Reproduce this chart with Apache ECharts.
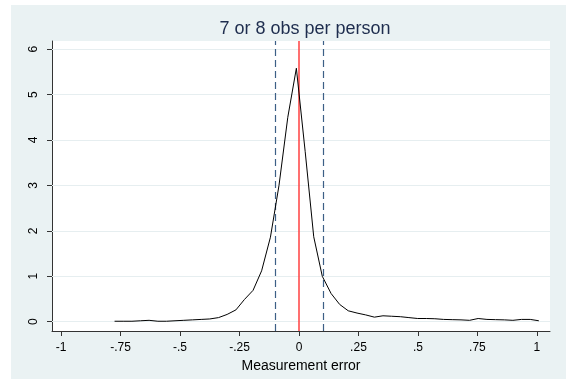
<!DOCTYPE html>
<html>
<head>
<meta charset="utf-8">
<script src="https://cdn.jsdelivr.net/npm/echarts@6/dist/echarts.min.js"></script>
<style>
  html, body { margin: 0; padding: 0; background: #ffffff; }
  #chart { width: 566px; height: 379px; }
</style>
</head>
<body>
<div id="chart"></div>
<script>
// Kernel density of measurement error, evaluated at 50 points
const errX = [
  -0.775, -0.739, -0.702, -0.666, -0.630, -0.593, -0.557, -0.521, -0.484, -0.448,
  -0.411, -0.375, -0.338, -0.302, -0.265, -0.229, -0.193, -0.157, -0.120, -0.084,
  -0.047, -0.011, 0.026, 0.062, 0.098, 0.135, 0.171, 0.207, 0.244, 0.280,
  0.317, 0.353, 0.389, 0.426, 0.462, 0.499, 0.535, 0.571, 0.608, 0.644,
  0.681, 0.717, 0.753, 0.790, 0.826, 0.863, 0.899, 0.935, 0.972, 1.008
];
const density = [
  0.01, 0.01, 0.01, 0.02, 0.03, 0.01, 0.01, 0.02, 0.03, 0.04,
  0.05, 0.06, 0.09, 0.16, 0.26, 0.49, 0.69, 1.12, 1.86, 3.00,
  4.50, 5.58, 3.75, 1.87, 1.00, 0.62, 0.38, 0.24, 0.19, 0.15,
  0.10, 0.13, 0.12, 0.11, 0.09, 0.07, 0.07, 0.065, 0.05, 0.045,
  0.04, 0.03, 0.07, 0.05, 0.045, 0.04, 0.03, 0.05, 0.05, 0.02
];
const xTicks = [-1, -0.75, -0.5, -0.25, 0, 0.25, 0.5, 0.75, 1];
const yTicks = [0, 1, 2, 3, 4, 5, 6];
const meanLine = 0;
const bandLines = [-0.1, 0.1];

const titleText = '7 or 8 obs per person';
const xTitle = 'Measurement error';

// Stata-style number formatting: drop the leading zero (".25", "-.5")
function stataNum(v) {
  let s = String(Math.round(v * 100) / 100);
  return s.replace(/^0\./, '.').replace(/^-0\./, '-.');
}

const FONT = 'Liberation Sans, Arial, sans-serif';
const chart = echarts.init(document.getElementById('chart'));

chart.setOption({
  backgroundColor: '#ffffff',
  animation: false,
  graphic: [{
    type: 'rect',
    shape: { x: 11, y: 5, width: 555, height: 374 },
    style: { fill: '#eaf2f3' },
    z: -10
  }],
  title: {
    text: titleText,
    left: 300,
    textAlign: 'center',
    top: 15,
    textStyle: { fontFamily: FONT, fontSize: 18, fontWeight: 'normal', color: '#1e2d4e' }
  },
  grid: {
    left: 52, right: 16, top: 41, bottom: 48,
    show: true, backgroundColor: '#ffffff', borderWidth: 0
  },
  xAxis: {
    type: 'value',
    min: -1.038, max: 1.055,
    name: xTitle,
    nameLocation: 'middle',
    nameGap: 17,
    nameTextStyle: { fontFamily: FONT, fontSize: 14, color: '#000' },
    axisLine: { show: true, onZero: false, lineStyle: { color: '#333', width: 1 } },
    axisTick: { show: true, length: 5, customValues: xTicks, lineStyle: { color: '#333' } },
    axisLabel: {
      customValues: xTicks, margin: 11,
      fontFamily: FONT, fontSize: 12, color: '#000',
      formatter: stataNum
    },
    splitLine: { show: false }
  },
  yAxis: {
    type: 'value',
    min: -0.205, max: 6.18,
    axisLine: { show: true, onZero: false, lineStyle: { color: '#333', width: 1 } },
    axisTick: { show: true, length: 5, customValues: yTicks, lineStyle: { color: '#333' } },
    axisLabel: {
      customValues: yTicks, rotate: 90, margin: 12,
      fontFamily: FONT, fontSize: 12, color: '#000',
      formatter: stataNum
    },
    splitLine: { show: false }
  },
  series: [
    {
      // horizontal grid lines at the labelled y values
      type: 'line',
      data: [],
      silent: true,
      markLine: {
        symbol: 'none',
        silent: true,
        label: { show: false },
        lineStyle: { color: '#e6eef0', width: 1, type: 'solid' },
        data: yTicks.map(v => ({ yAxis: v }))
      },
      z: 1
    },
    {
      type: 'line',
      data: errX.map((x, i) => [x, density[i]]),
      showSymbol: false,
      lineStyle: { color: '#000000', width: 1 },
      z: 5
    },
    {
      type: 'line',
      data: [],
      markLine: {
        symbol: 'none',
        silent: true,
        label: { show: false },
        data: [
          { xAxis: meanLine, lineStyle: { color: '#ff4040', width: 1.5, type: 'solid' } },
          ...bandLines.map(v => ({ xAxis: v, lineStyle: { color: '#3c5f86', width: 1.2, type: [7, 4] } }))
        ]
      },
      z: 4
    }
  ]
});
</script>
</body>
</html>
